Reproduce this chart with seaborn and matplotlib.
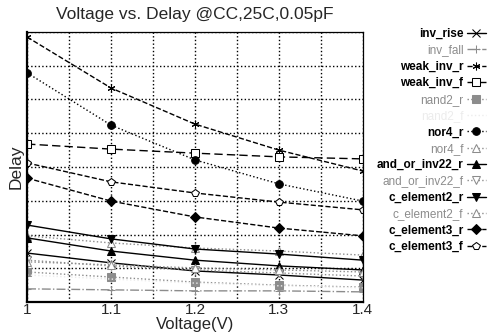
import numpy as np
import pandas as pd
import seaborn as sns
import matplotlib.pyplot as plt

# voltage sweep points
volts = [1.0, 1.1, 1.2, 1.3, 1.4]

# delay values (arbitrary grid units)
inv_rise = [1.45, 1.16, 0.92, 0.80, 0.65]
inv_fall = [0.39, 0.36, 0.33, 0.33, 0.30]
weak_inv_r = [7.85, 6.34, 5.27, 4.50, 3.88]
weak_inv_f = [4.68, 4.53, 4.41, 4.30, 4.24]
nand2_r = [0.89, 0.74, 0.59, 0.50, 0.44]
nand2_f = [0.80, 0.68, 0.56, 0.48, 0.42]
nor4_r = [6.79, 5.24, 4.21, 3.50, 2.99]
nor4_f = [1.96, 1.75, 1.60, 1.51, 1.39]
and_or_inv22_r = [1.90, 1.51, 1.24, 1.07, 0.95]
and_or_inv22_f = [1.24, 1.07, 0.95, 0.86, 0.77]
c_element2_r = [2.28, 1.87, 1.57, 1.42, 1.24]
c_element2_f = [1.19, 1.10, 1.01, 0.95, 0.89]
c_element3_r = [3.67, 2.99, 2.52, 2.19, 1.96]
c_element3_f = [4.12, 3.56, 3.23, 2.96, 2.73]

x_ticks = [1.0, 1.1, 1.2, 1.3, 1.4]
x_tick_labels = ["1", "1.1", "1.2", "1.3", "1.4"]

sns.set_style("white")
plt.rcParams["font.family"] = ["Liberation Sans", "DejaVu Sans"]

BLACK = "black"
GRAY = "#8c8c8c"
FAINT = "#ececec"

# name, values, color, marker, linestyle, marker filled?
series = [
    ("inv_rise", inv_rise, BLACK, "x", "-", True),
    ("inv_fall", inv_fall, GRAY, "+", "-.", True),
    ("weak_inv_r", weak_inv_r, BLACK, (6, 2, 0), "--", True),
    ("weak_inv_f", weak_inv_f, BLACK, "s", (0, (6, 3)), False),
    ("nand2_r", nand2_r, GRAY, "s", ":", True),
    ("nand2_f", nand2_f, FAINT, "", ":", True),
    ("nor4_r", nor4_r, BLACK, "o", ":", True),
    ("nor4_f", nor4_f, GRAY, "^", ":", False),
    ("and_or_inv22_r", and_or_inv22_r, BLACK, "^", "-", True),
    ("and_or_inv22_f", and_or_inv22_f, GRAY, "v", ":", False),
    ("c_element2_r", c_element2_r, BLACK, "v", "-", True),
    ("c_element2_f", c_element2_f, GRAY, "^", ":", False),
    ("c_element3_r", c_element3_r, BLACK, "D", "--", True),
    ("c_element3_f", c_element3_f, BLACK, "p", "--", False),
]

fig = plt.figure(figsize=(4.93, 3.35), dpi=100)
ax = fig.add_axes([0.055, 0.0985, 0.681, 0.806])

for name, vals, color, marker, ls, filled in series:
    sns.lineplot(
        x=volts,
        y=vals,
        ax=ax,
        color=color,
        marker=marker if marker else None,
        markersize=5.5,
        markerfacecolor=color if filled else "white",
        markeredgecolor=color,
        linestyle=ls,
        linewidth=1.0,
        label=name,
    )

ax.set_xlim(1.0, 1.4)
ax.set_ylim(0, 8)
ax.set_xticks(x_ticks)
ax.set_xticklabels(x_tick_labels, fontsize=11)
ax.set_xticks(np.arange(1.0, 1.41, 0.05), minor=True)
ax.set_yticks(np.arange(0, 8.1, 1))
ax.set_yticklabels([])
ax.tick_params(axis="both", which="both", direction="in", length=3, pad=0.5)
ax.grid(True, which="both", color="black", linestyle=":", linewidth=1.0)

for side in ["left", "bottom"]:
    ax.spines[side].set_linewidth(1.6)
for side in ["top", "right"]:
    ax.spines[side].set_linewidth(0.9)
for sp in ax.spines.values():
    sp.set_color("black")

ax.set_title("Voltage vs. Delay @CC,25C,0.05pF", fontsize=12.5, pad=9)
ax.set_xlabel("Voltage(V)", fontsize=12, labelpad=0)
ax.set_ylabel("Delay", fontsize=12.5, labelpad=2)

leg = ax.legend(
    loc="upper right",
    bbox_to_anchor=(0.995, 0.93),
    bbox_transform=fig.transFigure,
    frameon=False,
    markerfirst=False,
    fontsize=8.5,
    handlelength=1.6,
    handletextpad=0.3,
    labelspacing=0.37,
    borderaxespad=0,
)
for (name, vals, color, marker, ls, filled), txt in zip(series, leg.get_texts()):
    txt.set_color(color)
    if color == BLACK:
        txt.set_fontweight("bold")

fig.savefig("out.png", dpi=100)
